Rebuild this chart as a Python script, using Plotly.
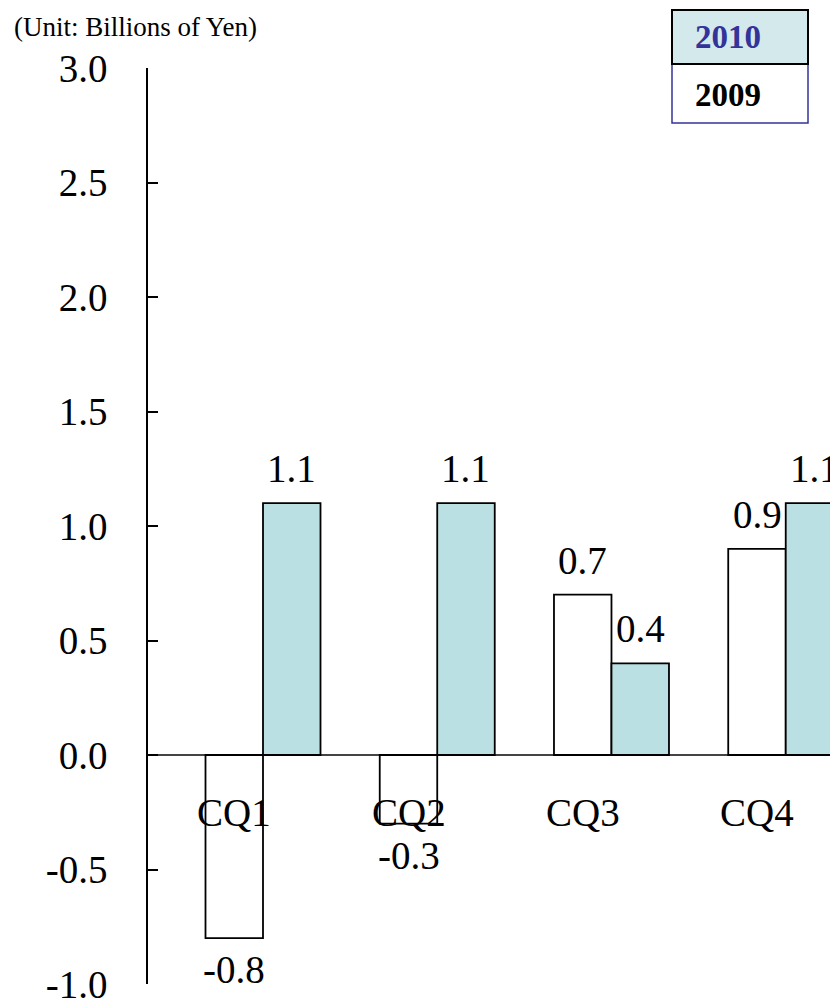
import plotly.graph_objects as go

categories = ["CQ1", "CQ2", "CQ3", "CQ4"]
values_2009 = [-0.8, -0.3, 0.7, 0.9]
values_2010 = [1.1, 1.1, 0.4, 1.1]
y_ticks = [-1.0, -0.5, 0.0, 0.5, 1.0, 1.5, 2.0, 2.5, 3.0]
series_names = ["2009", "2010"]
unit_text = "(Unit: Billions of Yen)"

# page has an 8px body margin; size the figure to the window
OFF = 8
W, H = 830, 993
L, R, T, B = 140, 0, 60, 17
PW, PH = W - L - R, H - T - B


def px(x):  # page pixel -> paper fraction
    return (x - OFF - L) / PW


def py(y):
    return (H - B - (y - OFF)) / PH


SERIF = "Liberation Serif, Times New Roman, serif"
BAR_FILL = "#BBE0E3"
FS = 39

fig = go.Figure()
fig.add_trace(go.Bar(x=categories, y=values_2009, name=series_names[0],
                     marker=dict(color="white", line=dict(color="black", width=1.8))))
fig.add_trace(go.Bar(x=categories, y=values_2010, name=series_names[1],
                     marker=dict(color=BAR_FILL, line=dict(color="black", width=1.8))))

annotations = []
half = 28.7
for vals, sh in ((values_2009, -half), (values_2010, half)):
    for c, v in zip(categories, vals):
        annotations.append(dict(
            x=c, y=v, xref="x", yref="y", text=f"{v:.1f}", showarrow=False,
            xshift=sh, yshift=11 if v >= 0 else -8,
            xanchor="center",
            yanchor="bottom" if v >= 0 else "top",
            font=dict(family=SERIF, size=FS, color="black")))
for c in categories:
    annotations.append(dict(
        x=c, y=0, xref="x", yref="y", text=c, showarrow=False,
        xshift=-half, yshift=-57, xanchor="center", yanchor="middle",
        font=dict(family=SERIF, size=FS, color="black")))

annotations.append(dict(x=px(12), y=py(27), xref="paper", yref="paper",
                        text=unit_text, showarrow=False, xanchor="left",
                        yanchor="middle",
                        font=dict(family=SERIF, size=27, color="black")))

# legend box
annotations.append(dict(x=px(728), y=py(37), xref="paper", yref="paper",
                        text="<b>" + series_names[1] + "</b>", showarrow=False,
                        xanchor="center", yanchor="middle",
                        font=dict(family=SERIF, size=33, color="#333399")))
annotations.append(dict(x=px(728), y=py(95), xref="paper", yref="paper",
                        text="<b>" + series_names[0] + "</b>", showarrow=False,
                        xanchor="center", yanchor="middle",
                        font=dict(family=SERIF, size=33, color="black")))

shapes = [
    dict(type="rect", xref="paper", yref="paper", x0=px(672), x1=px(808),
         y0=py(123), y1=py(64), fillcolor="white",
         line=dict(color="#333399", width=1.5)),
    dict(type="rect", xref="paper", yref="paper", x0=px(672), x1=px(808),
         y0=py(64), y1=py(10), fillcolor="#D3E9EC",
         line=dict(color="black", width=2)),
]

fig.update_layout(
    width=W, height=H,
    margin=dict(l=L, r=R, t=T, b=B, pad=0, autoexpand=False),
    paper_bgcolor="white", plot_bgcolor="white",
    barmode="group", bargap=0.34, bargroupgap=0,
    showlegend=False,
    annotations=annotations, shapes=shapes,
    xaxis=dict(type="category", range=[-0.66, 3.30], showticklabels=False,
               showgrid=False, zeroline=False, showline=False, ticks="",
               automargin=False),
    yaxis=dict(range=[-1.0, 3.0], tickvals=y_ticks,
               ticktext=[f"{t:.1f}" for t in y_ticks],
               ticks="inside", ticklen=10, tickwidth=1.5, tickcolor="black",
               showline=True, linecolor="black", linewidth=1.5,
               showgrid=False, zeroline=True, zerolinecolor="#444444",
               zerolinewidth=1.5, ticklabelstandoff=31,
               ticklabeloverflow="allow", automargin=False,
               tickfont=dict(family=SERIF, size=FS, color="black")),
)

fig.write_html("out.html")
